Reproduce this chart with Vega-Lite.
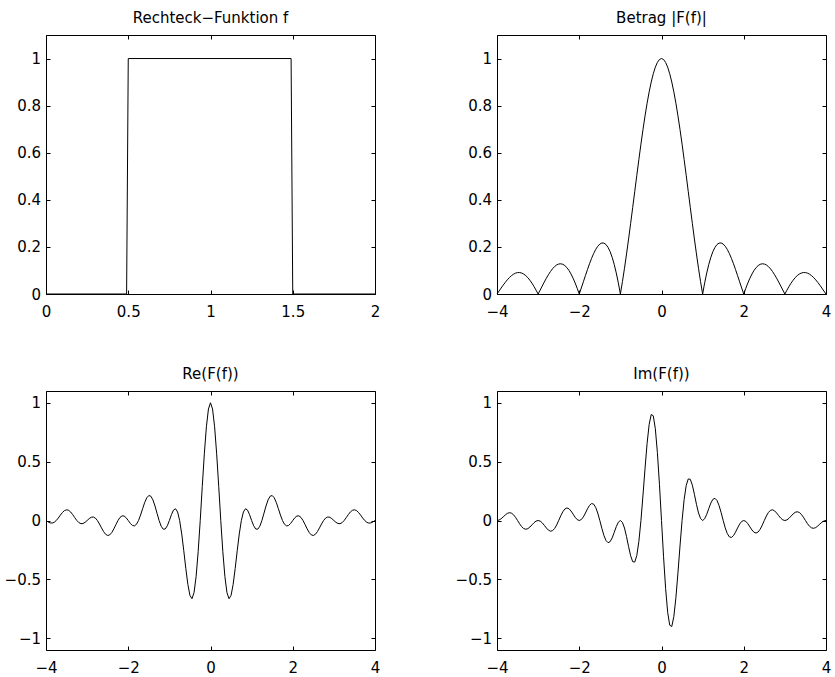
{
"$schema": "https://vega.github.io/schema/vega-lite/v6.json",
"padding": {"left": 3, "top": 10, "right": 0, "bottom": 0},
"background": "white",
"config": {
  "font": "DejaVu Sans",
  "view": {"stroke": null},
  "axis": {"domainColor": "black", "domainWidth": 1, "tickColor": "black", "tickWidth": 1, "labelColor": "black", "labelFont": "DejaVu Sans", "labelFontSize": 15, "grid": false, "tickSize": -4},
  "title": {"fontSize": 15, "fontWeight": "normal", "font": "DejaVu Sans", "color": "black", "baseline": "alphabetic", "offset": 9, "anchor": "middle"},
  "line": {"color": "black", "strokeWidth": 1}
},
"datasets": {
  "rect": [
    {"x": 0, "y": 0}, {"x": 0.49, "y": 0}, {"x": 0.5, "y": 1}, {"x": 1.49, "y": 1}, {"x": 1.5, "y": 0}, {"x": 2, "y": 0}
  ],
  "ft": [
{"f":-4,"abs":0,"re":0,"im":0},
{"f":-3.95,"abs":0.0126,"re":-0.012,"im":0.0039},
{"f":-3.9,"abs":0.0252,"re":-0.0204,"im":0.0148},
{"f":-3.85,"abs":0.0375,"re":-0.022,"im":0.0303},
{"f":-3.8,"abs":0.0492,"re":-0.0152,"im":0.0468},
{"f":-3.75,"abs":0.06,"re":0,"im":0.06},
{"f":-3.7,"abs":0.0696,"re":0.0215,"im":0.0662},
{"f":-3.65,"abs":0.0777,"re":0.0457,"im":0.0629},
{"f":-3.6,"abs":0.0841,"re":0.068,"im":0.0494},
{"f":-3.55,"abs":0.0886,"re":0.0843,"im":0.0274},
{"f":-3.5,"abs":0.0909,"re":0.0909,"im":0},
{"f":-3.45,"abs":0.0911,"re":0.0866,"im":-0.0282},
{"f":-3.4,"abs":0.089,"re":0.072,"im":-0.0523},
{"f":-3.35,"abs":0.0847,"re":0.0498,"im":-0.0685},
{"f":-3.3,"abs":0.078,"re":0.0241,"im":-0.0742},
{"f":-3.25,"abs":0.0693,"re":0,"im":-0.0693},
{"f":-3.2,"abs":0.0585,"re":-0.0181,"im":-0.0556},
{"f":-3.15,"abs":0.0459,"re":-0.027,"im":-0.0371},
{"f":-3.1,"abs":0.0317,"re":-0.0256,"im":-0.0186},
{"f":-3.05,"abs":0.0163,"re":-0.0155,"im":-0.005},
{"f":-3,"abs":0,"re":0,"im":0},
{"f":-2.95,"abs":0.0169,"re":0.0161,"im":-0.0052},
{"f":-2.9,"abs":0.0339,"re":0.0274,"im":-0.0199},
{"f":-2.85,"abs":0.0507,"re":0.0298,"im":-0.041},
{"f":-2.8,"abs":0.0668,"re":0.0206,"im":-0.0635},
{"f":-2.75,"abs":0.0818,"re":0,"im":-0.0818},
{"f":-2.7,"abs":0.0954,"re":-0.0295,"im":-0.0907},
{"f":-2.65,"abs":0.107,"re":-0.0629,"im":-0.0866},
{"f":-2.6,"abs":0.1164,"re":-0.0942,"im":-0.0684},
{"f":-2.55,"abs":0.1233,"re":-0.1173,"im":-0.0381},
{"f":-2.5,"abs":0.1273,"re":-0.1273,"im":0},
{"f":-2.45,"abs":0.1283,"re":-0.122,"im":0.0396},
{"f":-2.4,"abs":0.1261,"re":-0.102,"im":0.0741},
{"f":-2.35,"abs":0.1207,"re":-0.0709,"im":0.0976},
{"f":-2.3,"abs":0.112,"re":-0.0346,"im":0.1065},
{"f":-2.25,"abs":0.1,"re":0,"im":0.1},
{"f":-2.2,"abs":0.085,"re":0.0263,"im":0.0808},
{"f":-2.15,"abs":0.0672,"re":0.0395,"im":0.0544},
{"f":-2.1,"abs":0.0468,"re":0.0379,"im":0.0275},
{"f":-2.05,"abs":0.0243,"re":0.0231,"im":0.0075},
{"f":-2,"abs":0,"re":0,"im":0},
{"f":-1.95,"abs":0.0255,"re":-0.0243,"im":0.0079},
{"f":-1.9,"abs":0.0518,"re":-0.0419,"im":0.0304},
{"f":-1.85,"abs":0.0781,"re":-0.0459,"im":0.0632},
{"f":-1.8,"abs":0.1039,"re":-0.0321,"im":0.0988},
{"f":-1.75,"abs":0.1286,"re":0,"im":0.1286},
{"f":-1.7,"abs":0.1515,"re":0.0468,"im":0.1441},
{"f":-1.65,"abs":0.1719,"re":0.101,"im":0.1391},
{"f":-1.6,"abs":0.1892,"re":0.1531,"im":0.1112},
{"f":-1.55,"abs":0.2028,"re":0.1929,"im":0.0627},
{"f":-1.5,"abs":0.2122,"re":0.2122,"im":0},
{"f":-1.45,"abs":0.2168,"re":0.2062,"im":-0.067},
{"f":-1.4,"abs":0.2162,"re":0.1749,"im":-0.1271},
{"f":-1.35,"abs":0.2101,"re":0.1235,"im":-0.17},
{"f":-1.3,"abs":0.1981,"re":0.0612,"im":-0.1884},
{"f":-1.25,"abs":0.1801,"re":0,"im":-0.1801},
{"f":-1.2,"abs":0.1559,"re":-0.0482,"im":-0.1483},
{"f":-1.15,"abs":0.1257,"re":-0.0739,"im":-0.1017},
{"f":-1.1,"abs":0.0894,"re":-0.0723,"im":-0.0525},
{"f":-1.05,"abs":0.0474,"re":-0.0451,"im":-0.0146},
{"f":-1,"abs":0,"re":0,"im":0},
{"f":-0.95,"abs":0.0524,"re":0.0498,"im":-0.0162},
{"f":-0.9,"abs":0.1093,"re":0.0884,"im":-0.0642},
{"f":-0.85,"abs":0.17,"re":0.0999,"im":-0.1375},
{"f":-0.8,"abs":0.2339,"re":0.0723,"im":-0.2225},
{"f":-0.75,"abs":0.3001,"re":0,"im":-0.3001},
{"f":-0.7,"abs":0.3679,"re":-0.1137,"im":-0.3499},
{"f":-0.65,"abs":0.4363,"re":-0.2565,"im":-0.353},
{"f":-0.6,"abs":0.5046,"re":-0.4082,"im":-0.2966},
{"f":-0.55,"abs":0.5716,"re":-0.5436,"im":-0.1766},
{"f":-0.5,"abs":0.6366,"re":-0.6366,"im":0},
{"f":-0.45,"abs":0.6986,"re":-0.6644,"im":0.2159},
{"f":-0.4,"abs":0.7568,"re":-0.6123,"im":0.4448},
{"f":-0.35,"abs":0.8103,"re":-0.4763,"im":0.6555},
{"f":-0.3,"abs":0.8584,"re":-0.2653,"im":0.8164},
{"f":-0.25,"abs":0.9003,"re":0,"im":0.9003},
{"f":-0.2,"abs":0.9355,"re":0.2891,"im":0.8897},
{"f":-0.15,"abs":0.9634,"re":0.5663,"im":0.7794},
{"f":-0.1,"abs":0.9836,"re":0.7957,"im":0.5781},
{"f":-0.05,"abs":0.9959,"re":0.9472,"im":0.3078},
{"f":0,"abs":1,"re":1,"im":0},
{"f":0.05,"abs":0.9959,"re":0.9472,"im":-0.3078},
{"f":0.1,"abs":0.9836,"re":0.7957,"im":-0.5781},
{"f":0.15,"abs":0.9634,"re":0.5663,"im":-0.7794},
{"f":0.2,"abs":0.9355,"re":0.2891,"im":-0.8897},
{"f":0.25,"abs":0.9003,"re":0,"im":-0.9003},
{"f":0.3,"abs":0.8584,"re":-0.2653,"im":-0.8164},
{"f":0.35,"abs":0.8103,"re":-0.4763,"im":-0.6555},
{"f":0.4,"abs":0.7568,"re":-0.6123,"im":-0.4448},
{"f":0.45,"abs":0.6986,"re":-0.6644,"im":-0.2159},
{"f":0.5,"abs":0.6366,"re":-0.6366,"im":0},
{"f":0.55,"abs":0.5716,"re":-0.5436,"im":0.1766},
{"f":0.6,"abs":0.5046,"re":-0.4082,"im":0.2966},
{"f":0.65,"abs":0.4363,"re":-0.2565,"im":0.353},
{"f":0.7,"abs":0.3679,"re":-0.1137,"im":0.3499},
{"f":0.75,"abs":0.3001,"re":0,"im":0.3001},
{"f":0.8,"abs":0.2339,"re":0.0723,"im":0.2225},
{"f":0.85,"abs":0.17,"re":0.0999,"im":0.1375},
{"f":0.9,"abs":0.1093,"re":0.0884,"im":0.0642},
{"f":0.95,"abs":0.0524,"re":0.0498,"im":0.0162},
{"f":1,"abs":0,"re":0,"im":0},
{"f":1.05,"abs":0.0474,"re":-0.0451,"im":0.0146},
{"f":1.1,"abs":0.0894,"re":-0.0723,"im":0.0525},
{"f":1.15,"abs":0.1257,"re":-0.0739,"im":0.1017},
{"f":1.2,"abs":0.1559,"re":-0.0482,"im":0.1483},
{"f":1.25,"abs":0.1801,"re":0,"im":0.1801},
{"f":1.3,"abs":0.1981,"re":0.0612,"im":0.1884},
{"f":1.35,"abs":0.2101,"re":0.1235,"im":0.17},
{"f":1.4,"abs":0.2162,"re":0.1749,"im":0.1271},
{"f":1.45,"abs":0.2168,"re":0.2062,"im":0.067},
{"f":1.5,"abs":0.2122,"re":0.2122,"im":0},
{"f":1.55,"abs":0.2028,"re":0.1929,"im":-0.0627},
{"f":1.6,"abs":0.1892,"re":0.1531,"im":-0.1112},
{"f":1.65,"abs":0.1719,"re":0.101,"im":-0.1391},
{"f":1.7,"abs":0.1515,"re":0.0468,"im":-0.1441},
{"f":1.75,"abs":0.1286,"re":0,"im":-0.1286},
{"f":1.8,"abs":0.1039,"re":-0.0321,"im":-0.0988},
{"f":1.85,"abs":0.0781,"re":-0.0459,"im":-0.0632},
{"f":1.9,"abs":0.0518,"re":-0.0419,"im":-0.0304},
{"f":1.95,"abs":0.0255,"re":-0.0243,"im":-0.0079},
{"f":2,"abs":0,"re":0,"im":0},
{"f":2.05,"abs":0.0243,"re":0.0231,"im":-0.0075},
{"f":2.1,"abs":0.0468,"re":0.0379,"im":-0.0275},
{"f":2.15,"abs":0.0672,"re":0.0395,"im":-0.0544},
{"f":2.2,"abs":0.085,"re":0.0263,"im":-0.0808},
{"f":2.25,"abs":0.1,"re":0,"im":-0.1},
{"f":2.3,"abs":0.112,"re":-0.0346,"im":-0.1065},
{"f":2.35,"abs":0.1207,"re":-0.0709,"im":-0.0976},
{"f":2.4,"abs":0.1261,"re":-0.102,"im":-0.0741},
{"f":2.45,"abs":0.1283,"re":-0.122,"im":-0.0396},
{"f":2.5,"abs":0.1273,"re":-0.1273,"im":0},
{"f":2.55,"abs":0.1233,"re":-0.1173,"im":0.0381},
{"f":2.6,"abs":0.1164,"re":-0.0942,"im":0.0684},
{"f":2.65,"abs":0.107,"re":-0.0629,"im":0.0866},
{"f":2.7,"abs":0.0954,"re":-0.0295,"im":0.0907},
{"f":2.75,"abs":0.0818,"re":0,"im":0.0818},
{"f":2.8,"abs":0.0668,"re":0.0206,"im":0.0635},
{"f":2.85,"abs":0.0507,"re":0.0298,"im":0.041},
{"f":2.9,"abs":0.0339,"re":0.0274,"im":0.0199},
{"f":2.95,"abs":0.0169,"re":0.0161,"im":0.0052},
{"f":3,"abs":0,"re":0,"im":0},
{"f":3.05,"abs":0.0163,"re":-0.0155,"im":0.005},
{"f":3.1,"abs":0.0317,"re":-0.0256,"im":0.0186},
{"f":3.15,"abs":0.0459,"re":-0.027,"im":0.0371},
{"f":3.2,"abs":0.0585,"re":-0.0181,"im":0.0556},
{"f":3.25,"abs":0.0693,"re":0,"im":0.0693},
{"f":3.3,"abs":0.078,"re":0.0241,"im":0.0742},
{"f":3.35,"abs":0.0847,"re":0.0498,"im":0.0685},
{"f":3.4,"abs":0.089,"re":0.072,"im":0.0523},
{"f":3.45,"abs":0.0911,"re":0.0866,"im":0.0282},
{"f":3.5,"abs":0.0909,"re":0.0909,"im":0},
{"f":3.55,"abs":0.0886,"re":0.0843,"im":-0.0274},
{"f":3.6,"abs":0.0841,"re":0.068,"im":-0.0494},
{"f":3.65,"abs":0.0777,"re":0.0457,"im":-0.0629},
{"f":3.7,"abs":0.0696,"re":0.0215,"im":-0.0662},
{"f":3.75,"abs":0.06,"re":0,"im":-0.06},
{"f":3.8,"abs":0.0492,"re":-0.0152,"im":-0.0468},
{"f":3.85,"abs":0.0375,"re":-0.022,"im":-0.0303},
{"f":3.9,"abs":0.0252,"re":-0.0204,"im":-0.0148},
{"f":3.95,"abs":0.0126,"re":-0.012,"im":-0.0039},
{"f":4,"abs":0,"re":0,"im":0}
  ]
},
"columns": 2,
"spacing": {"row": 47, "column": 73},
"concat": [
  {
    "title": "Rechteck−Funktion f",
    "width": 329, "height": 259,
    "data": {"name": "rect"},
    "layer": [
      {"mark": {"type": "line"},
       "encoding": {
         "x": {"field": "x", "type": "quantitative", "scale": {"domain": [0, 2], "nice": false, "zero": false},
               "axis": {"orient": "bottom", "title": null, "values": [0, 0.5, 1, 1.5, 2], "format": "~g", "labelFlush": false, "labelOverlap": false, "labelPadding": 14, "minExtent": 25, "maxExtent": 25}},
         "y": {"field": "y", "type": "quantitative", "scale": {"domain": [0, 1.1], "nice": false, "zero": false},
               "axis": {"orient": "left", "title": null, "values": [0, 0.2, 0.4, 0.6, 0.8, 1], "format": "~g", "labelOverlap": false, "labelPadding": 9.5, "minExtent": 43, "maxExtent": 43}}
       }},
      {"mark": {"type": "line", "opacity": 0},
       "encoding": {
         "x": {"field": "x", "type": "quantitative", "axis": {"orient": "top", "title": null, "values": [0, 0.5, 1, 1.5, 2], "labels": false, "minExtent": 0, "maxExtent": 0}},
         "y": {"field": "y", "type": "quantitative", "axis": {"orient": "right", "title": null, "values": [0, 0.2, 0.4, 0.6, 0.8, 1], "labels": false, "minExtent": 6, "maxExtent": 6}}
       }}
    ],
    "resolve": {"axis": {"x": "independent", "y": "independent"}}
  },
  {
    "title": "Betrag |F(f)|",
    "width": 329, "height": 259,
    "data": {"name": "ft"},
    "layer": [
      {"mark": {"type": "line"},
       "encoding": {
         "x": {"field": "f", "type": "quantitative", "scale": {"domain": [-4, 4], "nice": false, "zero": false},
               "axis": {"orient": "bottom", "title": null, "values": [-4, -2, 0, 2, 4], "format": "~g", "labelFlush": false, "labelOverlap": false, "labelPadding": 14, "minExtent": 25, "maxExtent": 25}},
         "y": {"field": "abs", "type": "quantitative", "scale": {"domain": [0, 1.1], "nice": false, "zero": false},
               "axis": {"orient": "left", "title": null, "values": [0, 0.2, 0.4, 0.6, 0.8, 1], "format": "~g", "labelOverlap": false, "labelPadding": 9.5, "minExtent": 43, "maxExtent": 43}}
       }},
      {"mark": {"type": "line", "opacity": 0},
       "encoding": {
         "x": {"field": "f", "type": "quantitative", "axis": {"orient": "top", "title": null, "values": [-4, -2, 0, 2, 4], "labels": false, "minExtent": 0, "maxExtent": 0}},
         "y": {"field": "abs", "type": "quantitative", "axis": {"orient": "right", "title": null, "values": [0, 0.2, 0.4, 0.6, 0.8, 1], "labels": false, "minExtent": 6, "maxExtent": 6}}
       }}
    ],
    "resolve": {"axis": {"x": "independent", "y": "independent"}}
  },
  {
    "title": "Re(F(f))",
    "width": 329, "height": 259,
    "data": {"name": "ft"},
    "layer": [
      {"mark": {"type": "line"},
       "encoding": {
         "x": {"field": "f", "type": "quantitative", "scale": {"domain": [-4, 4], "nice": false, "zero": false},
               "axis": {"orient": "bottom", "title": null, "values": [-4, -2, 0, 2, 4], "format": "~g", "labelFlush": false, "labelOverlap": false, "labelPadding": 14, "minExtent": 25, "maxExtent": 25}},
         "y": {"field": "re", "type": "quantitative", "scale": {"domain": [-1.1, 1.1], "nice": false, "zero": false},
               "axis": {"orient": "left", "title": null, "values": [-1, -0.5, 0, 0.5, 1], "format": "~g", "labelOverlap": false, "labelPadding": 9.5, "minExtent": 43, "maxExtent": 43}}
       }},
      {"mark": {"type": "line", "opacity": 0},
       "encoding": {
         "x": {"field": "f", "type": "quantitative", "axis": {"orient": "top", "title": null, "values": [-4, -2, 0, 2, 4], "labels": false, "minExtent": 0, "maxExtent": 0}},
         "y": {"field": "re", "type": "quantitative", "axis": {"orient": "right", "title": null, "values": [-1, -0.5, 0, 0.5, 1], "labels": false, "minExtent": 6, "maxExtent": 6}}
       }}
    ],
    "resolve": {"axis": {"x": "independent", "y": "independent"}}
  },
  {
    "title": "Im(F(f))",
    "width": 329, "height": 259,
    "data": {"name": "ft"},
    "layer": [
      {"mark": {"type": "line"},
       "encoding": {
         "x": {"field": "f", "type": "quantitative", "scale": {"domain": [-4, 4], "nice": false, "zero": false},
               "axis": {"orient": "bottom", "title": null, "values": [-4, -2, 0, 2, 4], "format": "~g", "labelFlush": false, "labelOverlap": false, "labelPadding": 14, "minExtent": 25, "maxExtent": 25}},
         "y": {"field": "im", "type": "quantitative", "scale": {"domain": [-1.1, 1.1], "nice": false, "zero": false},
               "axis": {"orient": "left", "title": null, "values": [-1, -0.5, 0, 0.5, 1], "format": "~g", "labelOverlap": false, "labelPadding": 9.5, "minExtent": 43, "maxExtent": 43}}
       }},
      {"mark": {"type": "line", "opacity": 0},
       "encoding": {
         "x": {"field": "f", "type": "quantitative", "axis": {"orient": "top", "title": null, "values": [-4, -2, 0, 2, 4], "labels": false, "minExtent": 0, "maxExtent": 0}},
         "y": {"field": "im", "type": "quantitative", "axis": {"orient": "right", "title": null, "values": [-1, -0.5, 0, 0.5, 1], "labels": false, "minExtent": 6, "maxExtent": 6}}
       }}
    ],
    "resolve": {"axis": {"x": "independent", "y": "independent"}}
  }
]
}
